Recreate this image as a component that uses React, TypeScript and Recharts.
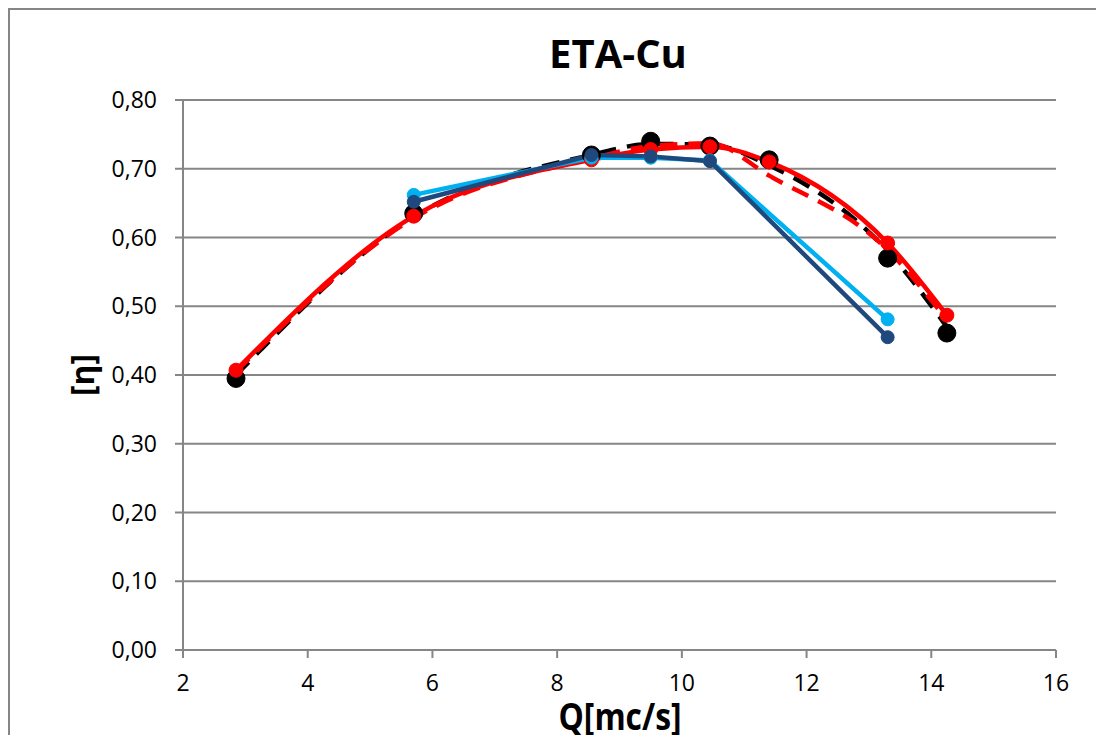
import React from "react";
import { LineChart, Line, XAxis, YAxis, CartesianGrid } from "recharts";

// Q values where the points were measured
const qPts = [2.85, 5.7, 8.55, 9.5, 10.45, 11.4, 13.3, 14.25];
const qBlue = [5.7, 8.55, 9.5, 10.45, 13.3];

// efficiency values
const etaBlack = [0.395, 0.635, 0.72, 0.74, 0.733, 0.713, 0.57, 0.461];
const etaBlackTrend = [0.4, 0.63, 0.72, 0.736, 0.735, 0.705, 0.58, 0.47];
const etaRed = [0.407, 0.631, 0.713, 0.728, 0.732, 0.71, 0.592, 0.487];
const etaRedTrend = [0.405, 0.628, 0.715, 0.733, 0.737, 0.69, 0.582, 0.48];
const etaLightBlue = [0.662, 0.716, 0.716, 0.712, 0.481];
const etaDarkBlue = [0.652, 0.72, 0.718, 0.711, 0.455];

const qTicks = [2, 4, 6, 8, 10, 12, 14, 16];
const etaTicks = [0, 0.1, 0.2, 0.3, 0.4, 0.5, 0.6, 0.7, 0.8];

const toPoints = (xs: number[], ys: number[]) => xs.map((q, i) => ({ q, eta: ys[i] }));

const FONT = "'Open Sans', 'Liberation Sans', sans-serif";
const GRID = "#868686";

export default function App() {
  const tickStyle = { fill: "#000", fontSize: 23, fontFamily: FONT };

  return (
    <div
      style={{
        position: "fixed",
        left: 8,
        top: 8,
        width: 1110,
        height: 750,
        boxSizing: "border-box",
        borderLeft: `2px solid ${GRID}`,
        borderTop: `2px solid ${GRID}`,
        background: "#fff",
      }}
    >
      <LineChart width={1100} height={740} margin={{ top: 90, right: 54, left: 73, bottom: 40 }}>
        <CartesianGrid vertical={false} stroke={GRID} strokeWidth={2} />
        <XAxis
          dataKey="q"
          type="number"
          domain={[2, 16]}
          ticks={qTicks}
          allowDataOverflow
          height={60}
          tickSize={8}
          tickMargin={17}
          stroke={GRID}
          strokeWidth={2}
          tick={tickStyle}
        />
        <YAxis
          type="number"
          domain={[0, 0.8]}
          ticks={etaTicks}
          width={100}
          tickSize={8}
          tickMargin={18}
          stroke={GRID}
          strokeWidth={2}
          tick={tickStyle}
          tickFormatter={(v: number) => v.toFixed(2).replace(".", ",")}
        />
        {/* black points + dashed trend */}
        <Line
          data={toPoints(qPts, etaBlack)}
          dataKey="eta"
          stroke="none"
          dot={{ r: 9, fill: "#000", stroke: "#000", strokeWidth: 1 }}
          isAnimationActive={false}
        />
        <Line
          data={toPoints(qPts, etaBlackTrend)}
          dataKey="eta"
          type="monotone"
          stroke="#000"
          strokeWidth={4.5}
          strokeDasharray="18 11"
          dot={false}
          isAnimationActive={false}
        />
        {/* red dashed trend */}
        <Line
          data={toPoints(qPts, etaRedTrend)}
          dataKey="eta"
          type="monotone"
          stroke="#ff0000"
          strokeWidth={4.5}
          strokeDasharray="18 11"
          dot={false}
          isAnimationActive={false}
        />
        <Line
          data={toPoints(qPts, etaRed)}
          dataKey="eta"
          type="monotone"
          stroke="#ff0000"
          strokeWidth={4.5}
          dot={{ r: 7, fill: "#ff0000", stroke: "#ff0000", strokeWidth: 1 }}
          isAnimationActive={false}
        />
        <Line
          data={toPoints(qBlue, etaLightBlue)}
          dataKey="eta"
          type="linear"
          stroke="#00b0f0"
          strokeWidth={4.5}
          dot={{ r: 6.5, fill: "#00b0f0", stroke: "#00b0f0", strokeWidth: 1 }}
          isAnimationActive={false}
        />
        <Line
          data={toPoints(qBlue, etaDarkBlue)}
          dataKey="eta"
          type="linear"
          stroke="#1f497d"
          strokeWidth={4.5}
          dot={{ r: 6.5, fill: "#1f497d", stroke: "#1f497d", strokeWidth: 1 }}
          isAnimationActive={false}
        />
      </LineChart>

      <div
        style={{
          position: "absolute",
          left: 608,
          top: 42.5,
          transform: "translate(-50%, -50%)",
          fontFamily: FONT,
          fontWeight: 700,
          fontSize: 40,
          lineHeight: 1,
          whiteSpace: "nowrap",
        }}
      >
        ETA-Cu
      </div>
      <div
        style={{
          position: "absolute",
          left: 610,
          top: 705,
          transform: "translate(-50%, -50%) scaleX(0.86)",
          fontFamily: FONT,
          fontWeight: 700,
          fontSize: 37,
          lineHeight: 1,
          whiteSpace: "nowrap",
        }}
      >
        Q[mc/s]
      </div>
      <div
        style={{
          position: "absolute",
          left: 72,
          top: 365,
          transform: "translate(-50%, -50%) rotate(-90deg)",
          fontFamily: FONT,
          fontWeight: 700,
          fontSize: 32,
          lineHeight: 1,
          whiteSpace: "nowrap",
        }}
      >
        [η]
      </div>
    </div>
  );
}
